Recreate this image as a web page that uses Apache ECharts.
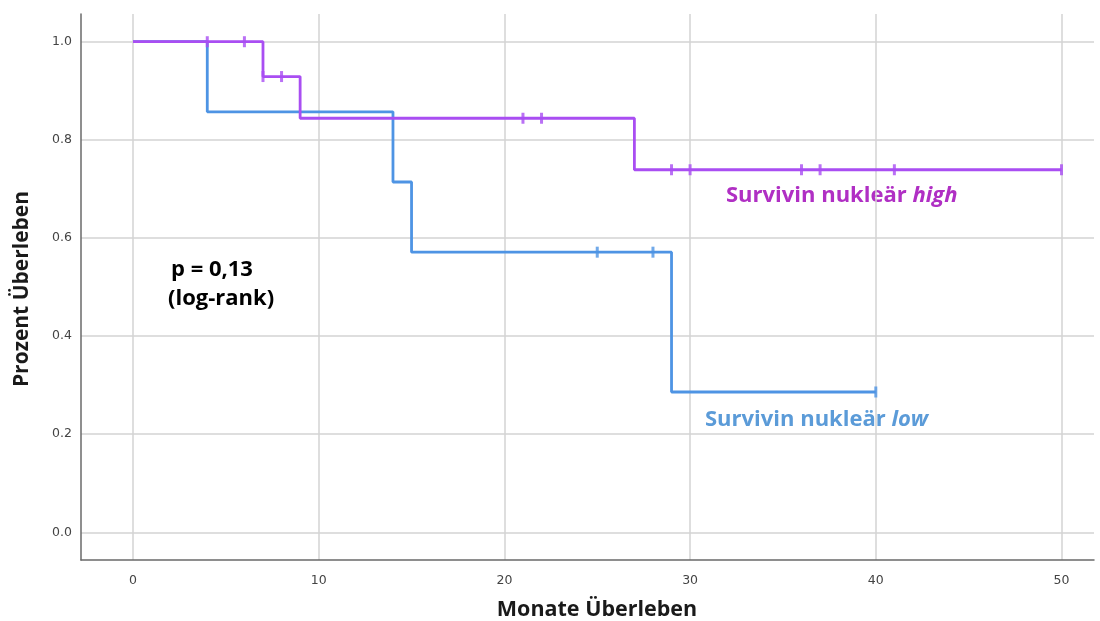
<!DOCTYPE html>
<html>
<head>
<meta charset="utf-8">
<script src="https://cdn.jsdelivr.net/npm/echarts@6/dist/echarts.min.js"></script>
<style>
html,body{margin:0;padding:0;background:#fff;}
#chart{width:1100px;height:621px;}
</style>
</head>
<body>
<div id="chart"></div>
<script>
// Kaplan-Meier step data (time in months, survival proportion)
const highTimes = [0, 7, 9, 27, 50];
const highSurv  = [1.0, 0.929, 0.844, 0.739, 0.739];
const highCensorTimes = [4, 6, 7, 8, 21, 22, 29, 30, 36, 37, 41, 50];
const highCensorSurv  = [1.0, 1.0, 0.929, 0.929, 0.844, 0.844, 0.739, 0.739, 0.739, 0.739, 0.739, 0.739];

const lowTimes = [0, 4, 14, 15, 29, 40];
const lowSurv  = [1.0, 0.857, 0.714, 0.571, 0.286, 0.286];
const lowCensorTimes = [25, 28, 40];
const lowCensorSurv  = [0.571, 0.571, 0.286];

const xTicks = [0, 10, 20, 30, 40, 50];
const yTicks = [0.0, 0.2, 0.4, 0.6, 0.8, 1.0];

const xTitle = 'Monate Überleben';
const yTitle = 'Prozent Überleben';
const labelHigh = ['Survivin nukleär ', 'high'];
const labelLow = ['Survivin nukleär ', 'low'];
const pText = ['p = 0,13', '(log-rank)'];

const zip = (a, b) => a.map((v, i) => [v, b[i]]);

const purple = '#a94ef2';
const blue = '#4e94e4';
const F = '"Open Sans"';

const chart = echarts.init(document.getElementById('chart'), null, {renderer: 'canvas'});
chart.setOption({
  animation: false,
  backgroundColor: '#ffffff',
  grid: {left: 81, top: 14, right: 6, bottom: 61, containLabel: false},
  xAxis: {
    type: 'value', min: -2.8, max: 51.75,
    axisLine: {show: true, onZero: false, lineStyle: {color: '#6a6a6a', width: 1.5}},
    axisTick: {show: false, customValues: xTicks},
    axisLabel: {customValues: xTicks, color: '#444', fontFamily: 'DejaVu Sans', fontSize: 12.5, margin: 14},
    splitLine: {show: true, lineStyle: {color: '#d3d3d3', width: 1.5}}
  },
  yAxis: {
    type: 'value', min: -0.0565, max: 1.0565,
    axisLine: {show: true, onZero: false, lineStyle: {color: '#6a6a6a', width: 1.5}},
    axisTick: {show: false, customValues: yTicks},
    axisLabel: {customValues: yTicks, color: '#444', fontFamily: 'DejaVu Sans', fontSize: 12.5, margin: 9,
      formatter: v => v.toFixed(1)},
    splitLine: {show: true, lineStyle: {color: '#d3d3d3', width: 1.5}}
  },
  series: [
    {type: 'line', step: 'end', data: zip(lowTimes, lowSurv), showSymbol: false,
     lineStyle: {color: blue, width: 2.8}, z: 2},
    {type: 'scatter', data: zip(lowCensorTimes, lowCensorSurv), symbol: 'rect', symbolSize: [3, 11],
     itemStyle: {color: blue}, z: 3},
    {type: 'line', step: 'end', data: zip(highTimes, highSurv), showSymbol: false,
     lineStyle: {color: purple, width: 2.8}, z: 4},
    {type: 'scatter', data: zip(highCensorTimes, highCensorSurv), symbol: 'rect', symbolSize: [3, 11],
     itemStyle: {color: purple}, z: 5}
  ],
  graphic: [
    {type: 'text', x: 597, y: 610, style: {text: xTitle, font: 'bold 21.5px ' + F, fill: '#1a1a1a', align: 'center', verticalAlign: 'middle'}},
    {type: 'text', x: 22, y: 289, rotation: Math.PI / 2, style: {text: yTitle, font: 'bold 21px ' + F, fill: '#1a1a1a', align: 'center', verticalAlign: 'middle'}},
    {type: 'text', x: 726, y: 196, style: {text: '{a|' + labelHigh[0] + '}{b|' + labelHigh[1] + '}', verticalAlign: 'middle',
      rich: {a: {font: 'bold 22px ' + F, fill: '#b02fc4'}, b: {font: 'italic bold 22px ' + F, fill: '#b02fc4'}}}},
    {type: 'text', x: 705, y: 420, style: {text: '{a|' + labelLow[0] + '}{b|' + labelLow[1] + '}', verticalAlign: 'middle',
      rich: {a: {font: 'bold 22px ' + F, fill: '#5b9bd8'}, b: {font: 'italic bold 22px ' + F, fill: '#5b9bd8'}}}},
    {type: 'text', x: 171, y: 270, style: {text: pText[0], font: 'bold 22px ' + F, fill: '#000', verticalAlign: 'middle'}},
    {type: 'text', x: 168, y: 299, style: {text: pText[1], font: 'bold 22px ' + F, fill: '#000', verticalAlign: 'middle'}}
  ]
});
</script>
</body>
</html>
